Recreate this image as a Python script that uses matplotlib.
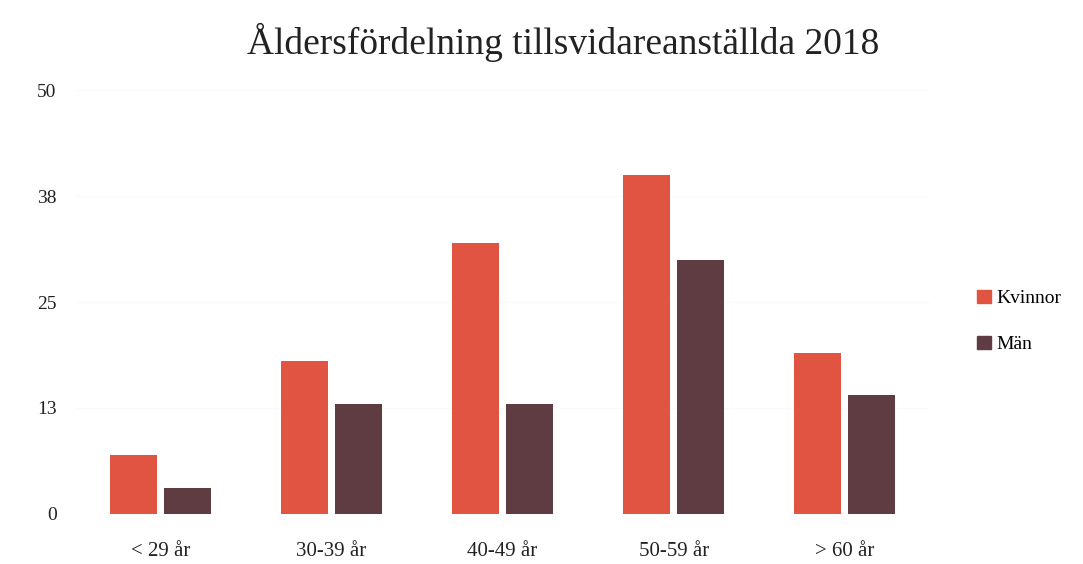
import numpy as np
import matplotlib.pyplot as plt
from matplotlib.patches import Patch

plt.rcParams['font.family'] = ['Liberation Serif', 'DejaVu Serif']

categories = ["< 29 år", "30-39 år", "40-49 år", "50-59 år", "> 60 år"]
kvinnor = [7, 18, 32, 40, 19]
man = [3, 13, 13, 30, 14]
yticks = [0, 12.5, 25, 37.5, 50]
ytick_labels = ["0", "13", "25", "38", "50"]

col_k = "#E15442"
col_m = "#5E3C41"

fig = plt.figure(figsize=(10.83, 5.64), dpi=100)
ax = fig.add_axes([0.069, 0.089, 0.79, 0.751])

x = np.arange(len(categories))
w = 0.275
ax.bar(x - w / 2 - 0.02, kvinnor, width=w, color=col_k, zorder=2)
ax.bar(x + w / 2 + 0.02, man, width=w, color=col_m, zorder=2)

ax.set_xlim(-0.5, len(categories) - 0.5)
ax.set_ylim(0, 50)
ax.set_yticks(yticks)
ax.set_yticklabels(ytick_labels, fontsize=14, color="#222222")
ax.set_xticks(x)
ax.set_xticklabels(categories, fontsize=15, color="#222222")
ax.tick_params(length=0)
ax.tick_params(axis="y", pad=13)
ax.tick_params(axis="x", pad=20)
ax.grid(axis="y", color="#fafafa", lw=1, zorder=0)
for s in ax.spines.values():
    s.set_visible(False)

fig.suptitle("Åldersfördelning tillsvidareanställda 2018", fontsize=27, y=0.96, x=0.52, color="#222222")

handles = [Patch(color=col_k, label="Kvinnor"), Patch(color=col_m, label="Män")]
fig.legend(handles=handles, loc="center left", bbox_to_anchor=(0.886, 0.43), frameon=False,
           fontsize=14, handlelength=0.7, handleheight=0.7, handletextpad=0.3, labelspacing=1.45)

plt.savefig("out.png", facecolor="white")
